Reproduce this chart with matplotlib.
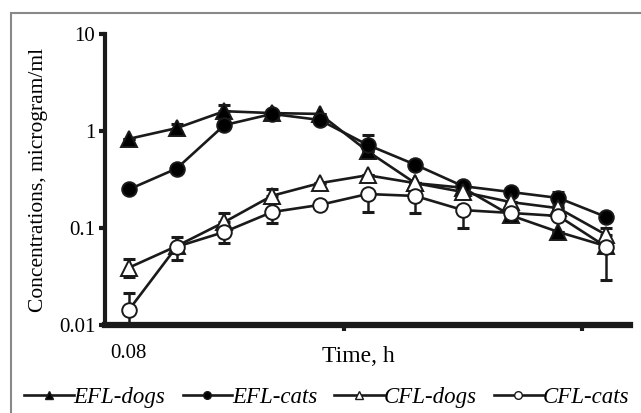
import matplotlib
matplotlib.use("Agg")
import matplotlib.pyplot as plt
import numpy as np
from matplotlib.patches import Rectangle
from matplotlib.lines import Line2D

plt.rcParams['font.family'] = ['Liberation Serif', 'DejaVu Serif']

# Time points are evenly spaced categories; only the first is labelled
time_labels = ["0.08", "", "", "", "", "", "", "", "", "", ""]

efl_dogs = [0.83, 1.07, 1.6, 1.53, 1.5, 0.62, 0.29, 0.26, 0.135, 0.091, 0.065]
efl_cats = [0.25, 0.41, 1.15, 1.5, 1.3, 0.72, 0.45, 0.27, 0.235, 0.204, 0.13]
cfl_dogs = [0.039, 0.065, 0.115, 0.215, 0.29, 0.35, 0.29, 0.235, 0.185, 0.16, 0.085]
cfl_cats = [0.0143, 0.064, 0.091, 0.146, 0.173, 0.224, 0.214, 0.153, 0.143, 0.133, 0.064]

# error bars (lower, upper)
efl_dogs_lo = [0, 0.1, 0, 0, 0, 0, 0, 0, 0, 0, 0]
efl_dogs_hi = [0, 0.1, 0.25, 0, 0, 0, 0, 0, 0, 0, 0]
efl_cats_lo = [0, 0, 0, 0, 0, 0, 0, 0, 0, 0.03, 0]
efl_cats_hi = [0, 0, 0, 0, 0, 0.19, 0, 0, 0, 0.03, 0]
cfl_dogs_lo = [0.008, 0.018, 0, 0, 0, 0, 0, 0, 0, 0, 0]
cfl_dogs_hi = [0.009, 0.016, 0.028, 0.035, 0, 0, 0, 0, 0, 0, 0.015]
cfl_cats_lo = [0.004, 0, 0.021, 0.033, 0, 0.078, 0.071, 0.053, 0, 0, 0.035]
cfl_cats_hi = [0.007, 0, 0, 0, 0, 0, 0, 0, 0, 0, 0]

series = [
    ("EFL-dogs", efl_dogs, efl_dogs_lo, efl_dogs_hi, "^", "black"),
    ("EFL-cats", efl_cats, efl_cats_lo, efl_cats_hi, "o", "black"),
    ("CFL-dogs", cfl_dogs, cfl_dogs_lo, cfl_dogs_hi, "^", "white"),
    ("CFL-cats", cfl_cats, cfl_cats_lo, cfl_cats_hi, "o", "white"),
]

W, H = 641, 413
fig = plt.figure(figsize=(W / 100, H / 100), dpi=100)
ax = fig.add_axes([105 / W, 1 - 325 / H, (630 - 105) / W, (325 - 34) / H])

x = np.arange(len(time_labels))
for i, (name, vals, lo, hi, mk, fc) in enumerate(series):
    ax.errorbar(x, vals, yerr=[lo, hi], fmt='none', ecolor='#1a1a1a',
                elinewidth=1.8, capsize=4, capthick=2.2, zorder=2 + i)
    ax.plot(x, vals, color='#1a1a1a', lw=1.9, marker=mk,
            markersize=10.5 if mk == 'o' else 11, markerfacecolor=fc,
            markeredgecolor='#1a1a1a', markeredgewidth=1.4, zorder=2 + i)

ax.set_yscale('log')
ax.set_ylim(0.01, 10)
ax.set_xlim(-0.5, len(time_labels) - 0.5)
ax.set_yticks([0.01, 0.1, 1, 10])
ax.set_yticklabels(["0.01", "0.1", "1", "10"])
ax.yaxis.set_minor_locator(matplotlib.ticker.NullLocator())
ax.tick_params(axis='y', which='major', length=4, width=3, direction='out',
               labelsize=15, pad=3, color='#1a1a1a')

ax.set_xticks([4.5, 9.5])
ax.set_xticklabels(["", ""])
ax.tick_params(axis='x', which='major', length=4, width=3, direction='out', color='#1a1a1a')
ax.set_xticks(x, minor=True)
ax.set_xticklabels(time_labels, minor=True)
ax.tick_params(axis='x', which='minor', length=0, labelsize=15, pad=14)

for s in ['top', 'right']:
    ax.spines[s].set_visible(False)
ax.spines['left'].set_linewidth(3)
ax.spines['bottom'].set_linewidth(4.5)
ax.spines['left'].set_color('#1a1a1a')
ax.spines['bottom'].set_color('#1a1a1a')

fig.text(358 / W, 1 - 357 / H, "Time, h", fontsize=17, ha='center', va='center')
ax.set_ylabel("Concentrations, microgram/ml", fontsize=15.5, labelpad=8)

handles = [Line2D([], [], color='#1a1a1a', lw=1.9, marker=mk, markersize=5.5,
                  markerfacecolor=fc, markeredgecolor='#1a1a1a', markeredgewidth=1)
           for (_, _, _, _, mk, fc) in series]
labels = [s[0] for s in series]
leg = fig.legend(handles, labels, loc='center', bbox_to_anchor=(327 / W, 1 - 397 / H),
                 ncol=4, frameon=False, handlelength=2.15, handletextpad=0.0,
                 columnspacing=0.75, borderpad=0, borderaxespad=0,
                 prop={'family': 'Liberation Serif', 'style': 'italic', 'size': 16.5})

fig.patches.append(Rectangle((11 / W, -0.1), 1.2, 1 - 13 / H + 0.1, transform=fig.transFigure,
                             fill=False, edgecolor='#888888', lw=1.5))

fig.savefig("out.png", dpi=100)
